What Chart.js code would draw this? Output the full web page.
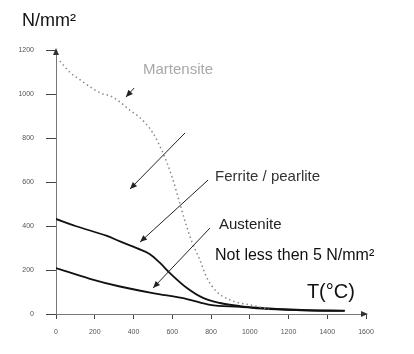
<!DOCTYPE html>
<html>
<head>
<meta charset="utf-8">
<script src="https://cdn.jsdelivr.net/npm/chart.js@4"></script>
<style>
  html, body { margin: 0; padding: 0; background: #fff; }
  #wrap { width: 414px; height: 354px; position: relative; }
</style>
</head>
<body>
<div id="wrap"><canvas id="chart" width="414" height="354"></canvas></div>
<script>
// temperature (°C) and strength (N/mm²)
const martTemps = [20, 70, 125, 185, 230, 280, 330, 380, 435, 500, 552, 600, 640, 670, 702, 743, 779, 831, 898, 950, 1020, 1100];
const martValues = [1150, 1100, 1064, 1027, 1004, 991, 964, 927, 891, 823, 732, 620, 500, 410, 327, 245, 164, 100, 64, 50, 38, 22];

const ferrTemps = [0, 100, 263, 330, 420, 485, 537, 588, 676, 759, 846, 950, 1100, 1300, 1490];
const ferrValues = [432, 400, 355, 330, 298, 272, 232, 186, 118, 73, 50, 36, 25, 18, 15];

const austTemps = [0, 175, 330, 500, 676, 795, 950, 1100, 1300, 1490];
const austValues = [209, 160, 125, 95, 68, 41, 32, 22, 16, 14];

const xTicks = [0, 200, 400, 600, 800, 1000, 1200, 1400, 1600];
const yTicks = [0, 200, 400, 600, 800, 1000, 1200];

// labels and arrows, in data units
const labels = [
  { text: "Martensite", x: 449, y: 1109, size: 15, color: "#a8a8a8" },
  { text: "Ferrite / pearlite", x: 821, y: 623, size: 15, color: "#333" },
  { text: "Austenite", x: 841, y: 405, size: 15, color: "#222" },
  { text: "Not less then 5 N/mm²", x: 821, y: 264, size: 16, color: "#111" },
  { text: "T(°C)", x: 1295, y: 100, size: 20, color: "#111" },
];
const arrows = [
  { from: [403, 1027], to: [361, 986] },
  { from: [666, 823], to: [382, 568] },
  { from: [785, 609], to: [434, 327] },
  { from: [795, 391], to: [501, 118] },
];

function toPoints(xs, ys) {
  return xs.map((x, i) => ({ x: x, y: ys[i] }));
}

function arrowHead(ctx, x1, y1, x2, y2) {
  const a = Math.atan2(y2 - y1, x2 - x1);
  const len = 7, w = 3;
  ctx.beginPath();
  ctx.moveTo(x2, y2);
  ctx.lineTo(x2 - len * Math.cos(a) + w * Math.sin(a), y2 - len * Math.sin(a) - w * Math.cos(a));
  ctx.lineTo(x2 - len * Math.cos(a) - w * Math.sin(a), y2 - len * Math.sin(a) + w * Math.cos(a));
  ctx.closePath();
  ctx.fill();
}

const notes = {
  id: "notes",
  afterDatasetsDraw(chart) {
    const ctx = chart.ctx;
    const xs = chart.scales.x, ys = chart.scales.y;
    const area = chart.chartArea;
    ctx.save();

    // axis arrows
    ctx.fillStyle = "#333";
    arrowHead(ctx, area.left, area.top + 10, area.left, area.top - 2);
    arrowHead(ctx, area.right - 10, area.bottom, area.right + 2, area.bottom);

    ctx.strokeStyle = "#222";
    ctx.fillStyle = "#222";
    ctx.lineWidth = 1;
    arrows.forEach((a) => {
      const x1 = xs.getPixelForValue(a.from[0]), y1 = ys.getPixelForValue(a.from[1]);
      const x2 = xs.getPixelForValue(a.to[0]), y2 = ys.getPixelForValue(a.to[1]);
      ctx.beginPath();
      ctx.moveTo(x1, y1);
      ctx.lineTo(x2, y2);
      ctx.stroke();
      arrowHead(ctx, x1, y1, x2, y2);
    });

    ctx.textBaseline = "middle";
    ctx.textAlign = "left";
    labels.forEach((l) => {
      ctx.font = l.size + "px 'Liberation Sans', Arial, sans-serif";
      ctx.fillStyle = l.color;
      ctx.fillText(l.text, xs.getPixelForValue(l.x), ys.getPixelForValue(l.y));
    });

    // unit of the vertical axis
    ctx.font = "18px 'Liberation Sans', Arial, sans-serif";
    ctx.fillStyle = "#111";
    ctx.fillText("N/mm²", area.left - 34, area.top - 29);
    ctx.restore();
  },
};

new Chart(document.getElementById("chart"), {
  type: "scatter",
  data: {
    datasets: [
      {
        label: "Martensite",
        data: toPoints(martTemps, martValues),
        showLine: true,
        borderColor: "#8a8a8a",
        borderWidth: 1.5,
        borderDash: [1.5, 3],
        pointRadius: 0,
        cubicInterpolationMode: "monotone",
      },
      {
        label: "Ferrite / pearlite",
        data: toPoints(ferrTemps, ferrValues),
        showLine: true,
        borderColor: "#111",
        borderWidth: 1.8,
        pointRadius: 0,
        cubicInterpolationMode: "monotone",
      },
      {
        label: "Austenite",
        data: toPoints(austTemps, austValues),
        showLine: true,
        borderColor: "#111",
        borderWidth: 1.8,
        pointRadius: 0,
        cubicInterpolationMode: "monotone",
      },
    ],
  },
  options: {
    responsive: false,
    animation: false,
    layout: { padding: { top: 50, right: 48, left: 0, bottom: 0 } },
    plugins: { legend: { display: false }, tooltip: { enabled: false } },
    scales: {
      x: {
        type: "linear",
        min: 0,
        max: 1600,
        afterBuildTicks: (axis) => { axis.ticks = xTicks.map((v) => ({ value: v })); },
        afterFit: (axis) => { axis.height = 40; },
        grid: { drawOnChartArea: false, tickLength: 5, color: "#444" },
        border: { color: "#777", dash: [1, 2] },
        ticks: {
          padding: 9,
          color: "#555",
          font: { size: 7, family: "'Liberation Sans', Arial" },
          callback: (v) => String(v),
        },
      },
      y: {
        min: 0,
        max: 1200,
        afterBuildTicks: (axis) => { axis.ticks = yTicks.map((v) => ({ value: v })); },
        afterFit: (axis) => { axis.width = 56; },
        grid: { drawOnChartArea: false, tickLength: 10, color: "#444" },
        border: { color: "#777", dash: [1, 2] },
        ticks: {
          padding: 12,
          color: "#555",
          font: { size: 7, family: "'Liberation Sans', Arial" },
          callback: (v) => String(v),
        },
      },
    },
  },
  plugins: [notes],
});
</script>
</body>
</html>
